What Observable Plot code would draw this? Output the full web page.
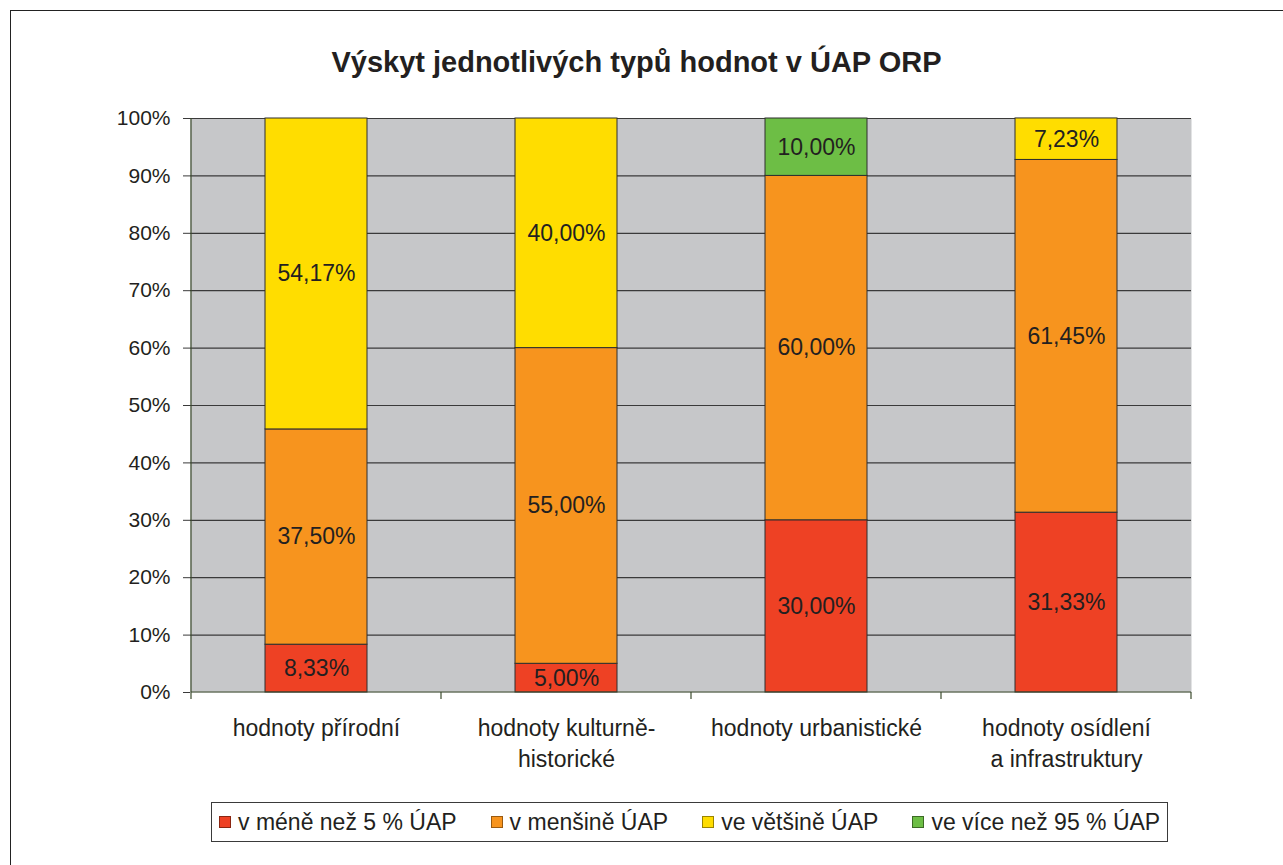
<!DOCTYPE html>
<html><head><meta charset="utf-8">
<script src="https://cdn.jsdelivr.net/npm/d3@7"></script>
<script src="https://cdn.jsdelivr.net/npm/@observablehq/plot@0.6"></script>
<style>
body{margin:0;overflow:hidden;background:#fff;font-family:"Liberation Sans",Arial,sans-serif;}
#wrap{position:relative;width:1283px;height:865px;overflow:hidden;}
#border{position:absolute;left:10px;top:10px;width:1400px;height:1000px;border:1.5px solid #222;box-sizing:border-box;}
#title{position:absolute;left:0;width:1273px;top:48px;line-height:29px;text-align:center;font-weight:bold;font-size:29px;color:#231f20;}
#chart{position:absolute;left:0;top:0;}
#legend{position:absolute;left:211px;top:802px;width:957px;height:40px;border:1.5px solid #3a3a3a;box-sizing:border-box;display:flex;align-items:center;padding-left:7px;gap:34px;font-size:23px;color:#231f20;}
.item{display:flex;align-items:center;white-space:nowrap;}
.sw{width:10px;height:10px;border:1px solid #333;margin-right:7px;}
</style></head><body>
<div id="wrap">
<div id="border"></div>
<div id="chart"></div>
<div id="title">Výskyt jednotlivých typů hodnot v ÚAP ORP</div>
<div id="legend"></div>
</div>
<script>
const categories = ["hodnoty přírodní", "hodnoty kulturně-historické", "hodnoty urbanistické", "hodnoty osídlení a infrastruktury"];
const categoryLabels = ["hodnoty přírodní", "hodnoty kulturně-\nhistorické", "hodnoty urbanistické", "hodnoty osídlení\na infrastruktury"];
const series = ["v méně než 5 % ÚAP", "v menšině ÚAP", "ve většině ÚAP", "ve více než 95 % ÚAP"];
const valuesLess5 = [8.33, 5.00, 30.00, 31.33];
const valuesMinority = [37.50, 55.00, 60.00, 61.45];
const valuesMajority = [54.17, 40.00, 0, 7.23];
const valuesMore95 = [0, 0, 10.00, 0];
const colors = ["#EE4124", "#F7941E", "#FFDD00", "#6DBE45"];
const swatchBorders = ["#8a2612", "#9a5a10", "#9a8400", "#3c6a25"];
const yTicks = [0, 10, 20, 30, 40, 50, 60, 70, 80, 90, 100];

const seriesValues = [valuesLess5, valuesMinority, valuesMajority, valuesMore95];
const rows = [];
categories.forEach((c, i) => {
  series.forEach((s, j) => {
    rows.push({category: c, series: s, value: seriesValues[j][i]});
  });
});
const nonZero = rows.filter(d => d.value > 0);
const fmt = v => v.toFixed(2).replace(".", ",") + "%";

function boundaries(index, scales) {
  const x = scales.x, y = scales.y;
  const bw = typeof x.bandwidth === "function" ? x.bandwidth() : x.bandwidth;
  const xs = [x(categories[0]), ...categories.map(c => x(c) + bw)];
  const y0 = y(0), yTop = y(100);
  const g = d3.create("svg:g").attr("stroke", "#3b4a2c").attr("stroke-width", 1.2);
  g.selectAll("line.t").data(xs).join("line")
    .attr("x1", d => d).attr("x2", d => d).attr("y1", y0).attr("y2", y0 + 7);
  g.append("line").attr("x1", xs[0]).attr("x2", xs[0]).attr("y1", yTop).attr("y2", y0);
  g.append("line").attr("x1", xs[0]).attr("x2", xs[xs.length - 1]).attr("y1", y0).attr("y2", y0);
  return g.node();
}

const chart = Plot.plot({
  width: 1283,
  height: 865,
  marginLeft: 190,
  marginRight: 92,
  marginTop: 118,
  marginBottom: 173,
  style: {fontFamily: "'Liberation Sans', Arial, sans-serif", fontSize: "21px", color: "#231f20", background: "transparent"},
  x: {domain: categories, padding: 0, axis: null},
  y: {domain: [0, 100], axis: null},
  color: {domain: series, range: colors},
  marks: [
    Plot.frame({fill: "#C6C7C9", stroke: null}),
    Plot.ruleY(yTicks.filter(t => t > 0), {stroke: "#3a3a3a", strokeWidth: 1.2}),
    Plot.barY(nonZero, {x: "category", y: "value", fill: "series", stroke: "#2e2e2e", strokeWidth: 1, insetLeft: 74, insetRight: 74}),
    Plot.text(nonZero, Plot.stackY({x: "category", y: "value", z: "series", text: d => fmt(d.value), fontSize: 23, fill: "#231f20"})),
    Plot.axisY({ticks: yTicks, tickFormat: d => d + "%", tickSize: 7, tickPadding: 13, fontSize: 21, stroke: "#3a3a3a", label: null}),
    Plot.text(categories, {x: d => d, frameAnchor: "bottom", dy: 21, lineAnchor: "top", text: (d, i) => categoryLabels[i], lineHeight: 1.35, fontSize: 23, fill: "#231f20"}),
    boundaries
  ]
});
document.getElementById("chart").appendChild(chart);

const legend = d3.select("#legend");
series.forEach((s, i) => {
  const it = legend.append("div").attr("class", "item");
  it.append("div").attr("class", "sw").style("background", colors[i]).style("border-color", swatchBorders[i]);
  it.append("span").text(s);
});
</script>
</body></html>
